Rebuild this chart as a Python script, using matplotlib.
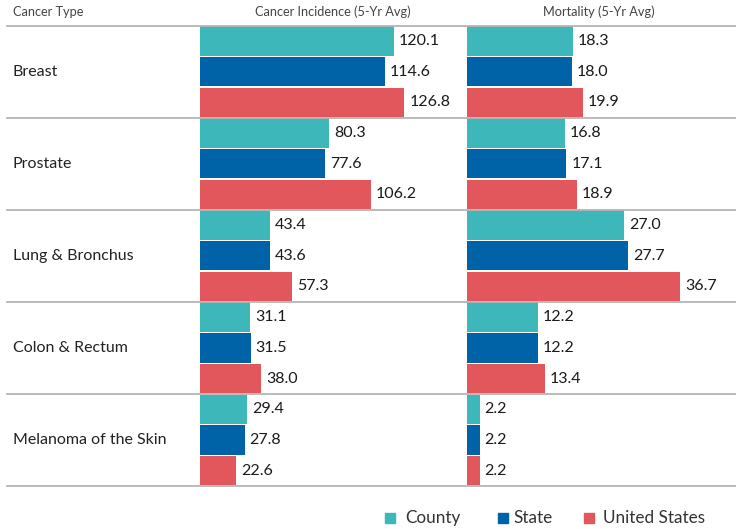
import matplotlib
matplotlib.use("Agg")
import matplotlib.pyplot as plt
from matplotlib.patches import Rectangle
from matplotlib.lines import Line2D

categories = ["Breast", "Prostate", "Lung & Bronchus", "Colon & Rectum", "Melanoma of the Skin"]
series = ["County", "State", "United States"]
incidence = {
    "County": [120.1, 80.3, 43.4, 31.1, 29.4],
    "State": [114.6, 77.6, 43.6, 31.5, 27.8],
    "United States": [126.8, 106.2, 57.3, 38.0, 22.6],
}
mortality = {
    "County": [18.3, 16.8, 27.0, 12.2, 2.2],
    "State": [18.0, 17.1, 27.7, 12.2, 2.2],
    "United States": [19.9, 18.9, 36.7, 13.4, 2.2],
}
colors = {"County": "#3db7b9", "State": "#0063a8", "United States": "#e2575b"}
headers = ["Cancer Type", "Cancer Incidence (5-Yr Avg)", "Mortality (5-Yr Avg)"]

FONT = ["Lato", "DejaVu Sans"]
plt.rcParams["font.family"] = FONT

W, H = 736, 529
fig = plt.figure(figsize=(W / 100, H / 100), dpi=100)

def fx(px):
    return px / W

def fy(py):
    return 1 - py / H

top, bottom = 25.5, 486.0
row_h = (bottom - top) / len(categories)

def make_panel(left_px, right_px, data, xmax):
    ax = fig.add_axes([fx(left_px), fy(bottom), fx(right_px - left_px), (bottom - top) / H])
    n = len(categories)
    for j, s in enumerate(series):
        ys = [3 * i + j + 0.5 for i in range(n)]
        ax.barh(ys, data[s], height=0.96, color=colors[s], edgecolor="none")
        for y, v in zip(ys, data[s]):
            ax.annotate(f"{v:.1f}", (v, y), xytext=(3.5, 0), textcoords="offset points",
                        va="center", ha="left", fontsize=11.5, color="#1a1a1a")
    ax.set_xlim(0, xmax)
    ax.set_ylim(3 * n, 0)
    ax.axis("off")
    return ax

make_panel(200, 462, incidence, 262 / 1.612)
make_panel(467, 736, mortality, 269 / 5.81)

# row labels
for i, c in enumerate(categories):
    fig.text(fx(13), fy(top + (i + 0.5) * row_h), c, fontsize=11.5, color="#222222",
             va="center", ha="left")

# headers
fig.text(fx(13), fy(12), headers[0], fontsize=9.2, color="#444444", va="center", ha="left")
fig.text(fx(333), fy(12), headers[1], fontsize=9.2, color="#444444", va="center", ha="center")
fig.text(fx(599), fy(12), headers[2], fontsize=9.2, color="#444444", va="center", ha="center")

# separator lines
for k in range(len(categories) + 1):
    yl = top + k * row_h
    fig.add_artist(Line2D([fx(7), 1], [fy(yl), fy(yl)], color="#b4b4b4", lw=1.3))

# legend
leg_y = 518
leg_pos = [(385, 405), (498, 513), (584, 603)]
for s, (sx, tx) in zip(series, leg_pos):
    fig.add_artist(Rectangle((fx(sx), fy(leg_y + 5)), fx(10), 10 / H, color=colors[s],
                             transform=fig.transFigure))
    fig.text(fx(tx), fy(leg_y), s, fontsize=12.3, color="#333333", va="center", ha="left")

fig.savefig("out.png", dpi=100)
